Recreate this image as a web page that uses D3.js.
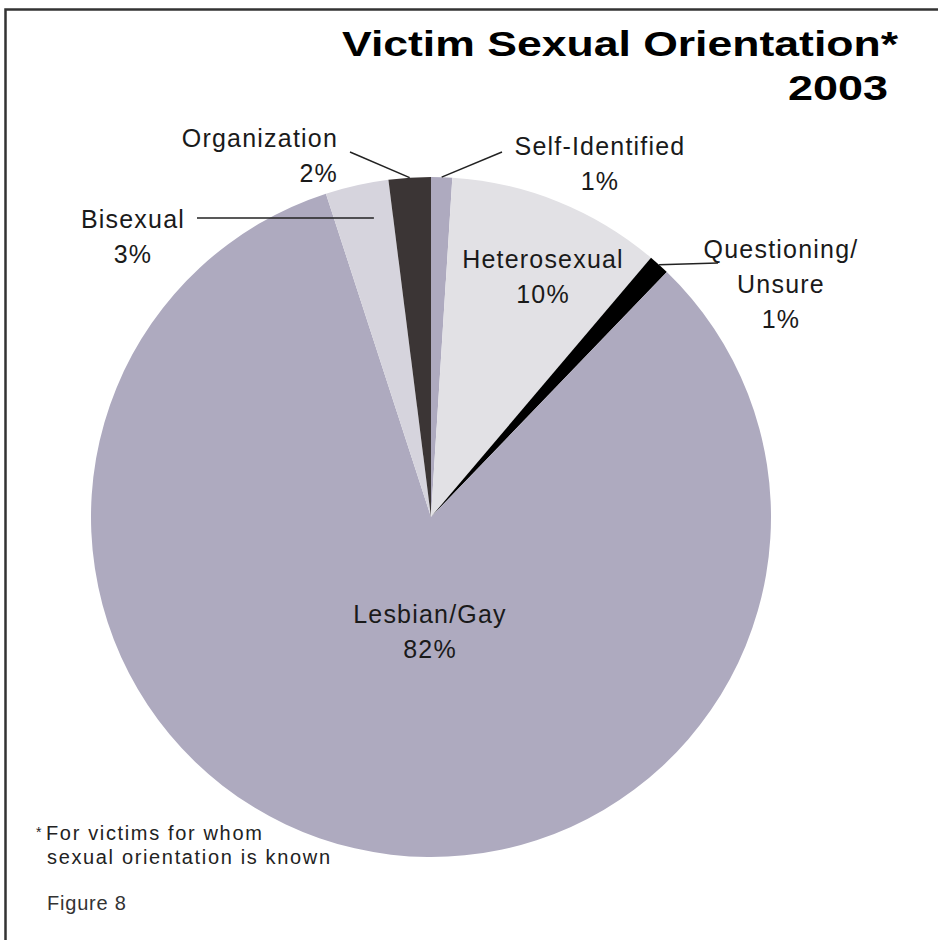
<!DOCTYPE html>
<html>
<head>
<meta charset="utf-8">
<script src="https://cdn.jsdelivr.net/npm/d3@7"></script>
<style>
  body { margin: 0; background: #fff; }
  svg { display: block; }
  text { font-family: "Liberation Sans", Arial, sans-serif; }
</style>
</head>
<body>
<svg id="chart"></svg>
<script>
// slices, clockwise from 12 o'clock
const categories = ['Self-Identified', 'Heterosexual', 'Questioning/Unsure', 'Lesbian/Gay', 'Bisexual', 'Organization'];
const values = [1.0, 10.2, 1.0, 82.8, 3.0, 2.0];
const pctLabels = ['1%', '10%', '1%', '82%', '3%', '2%'];
const nameLines = [['Self-Identified'], ['Heterosexual'], ['Questioning/', 'Unsure'], ['Lesbian/Gay'], ['Bisexual'], ['Organization']];
const colors = ['#aeaabf', '#e2e1e5', '#000000', '#aeaabf', '#d6d4dd', '#3b3535'];

const width = 938;
const height = 940;
const cx = 431, cy = 517, radius = 340;

// label placement: x, first baseline, anchor, leader start
const labelPos = [
  { x: 600, y: 155, anchor: 'middle', lead: [502, 152] },
  { x: 543, y: 268, anchor: 'middle', lead: null },
  { x: 781, y: 258, anchor: 'middle', lead: [718, 263] },
  { x: 430, y: 623, anchor: 'middle', lead: null },
  { x: 133, y: 228, anchor: 'middle', lead: [197, 218] },
  { x: 338, y: 147, anchor: 'end', lead: [350, 152] }
];

const svg = d3.select('#chart')
  .attr('width', width)
  .attr('height', height);

// frame (cropped at right and bottom)
svg.append('path')
  .attr('d', `M5.5,${height + 5} L5.5,9.5 L${width + 5},9.5`)
  .attr('fill', 'none')
  .attr('stroke', '#333')
  .attr('stroke-width', 2.5);

const pie = d3.pie().sort(null).value(d => d);
const arcs = pie(values);
const arc = d3.arc().innerRadius(0).outerRadius(radius);

const g = svg.append('g').attr('transform', `translate(${cx},${cy})`);

g.selectAll('path.slice')
  .data(arcs)
  .enter().append('path')
  .attr('class', 'slice')
  .attr('d', arc)
  .attr('fill', (d, i) => colors[i]);

// leader lines
arcs.forEach((d, i) => {
  const p = labelPos[i];
  if (!p.lead) return;
  const a = (d.startAngle + d.endAngle) / 2;
  let x0 = cx + Math.sin(a) * radius;
  let y0 = cy - Math.cos(a) * radius;
  if (i === 4) { // bisexual: horizontal line into the slice
    x0 = cx + Math.sin(a) * radius * 0.77;
    y0 = p.lead[1];
  }
  svg.append('line')
    .attr('x1', p.lead[0]).attr('y1', p.lead[1])
    .attr('x2', x0).attr('y2', y0)
    .attr('stroke', '#222')
    .attr('stroke-width', 1.5);
});

// labels
arcs.forEach((d, i) => {
  const p = labelPos[i];
  const t = svg.append('text')
    .attr('text-anchor', p.anchor)
    .attr('font-size', 25)
    .attr('letter-spacing', 1.2)
    .attr('fill', '#1a1a1a');
  const lines = nameLines[i].concat([pctLabels[i]]);
  lines.forEach((ln, k) => {
    t.append('tspan')
      .attr('x', p.x)
      .attr('y', p.y + k * 35)
      .text(ln);
  });
});

// title
svg.append('text')
  .attr('x', 342).attr('y', 56)
  .attr('font-family', '"DejaVu Sans", sans-serif')
  .attr('font-size', 35)
  .attr('font-weight', 'bold')
  .attr('fill', '#000')
  .attr('textLength', 556)
  .attr('lengthAdjust', 'spacingAndGlyphs')
  .text('Victim Sexual Orientation*');
svg.append('text')
  .attr('x', 788).attr('y', 100)
  .attr('font-family', '"DejaVu Sans", sans-serif')
  .attr('font-size', 35)
  .attr('font-weight', 'bold')
  .attr('fill', '#000')
  .attr('textLength', 100)
  .attr('lengthAdjust', 'spacingAndGlyphs')
  .text('2003');

// footnote
const foot = svg.append('text')
  .attr('font-size', 20)
  .attr('letter-spacing', 1.65)
  .attr('fill', '#222');
foot.append('tspan').attr('x', 36).attr('y', 837).attr('font-size', 14).text('*');
foot.append('tspan').attr('x', 46).attr('y', 840).text('For victims for whom');
foot.append('tspan').attr('x', 47).attr('y', 864).text('sexual orientation is known');

svg.append('text')
  .attr('x', 47).attr('y', 910)
  .attr('font-size', 20)
  .attr('letter-spacing', 0.8)
  .attr('fill', '#333')
  .text('Figure 8');
</script>
</body>
</html>
